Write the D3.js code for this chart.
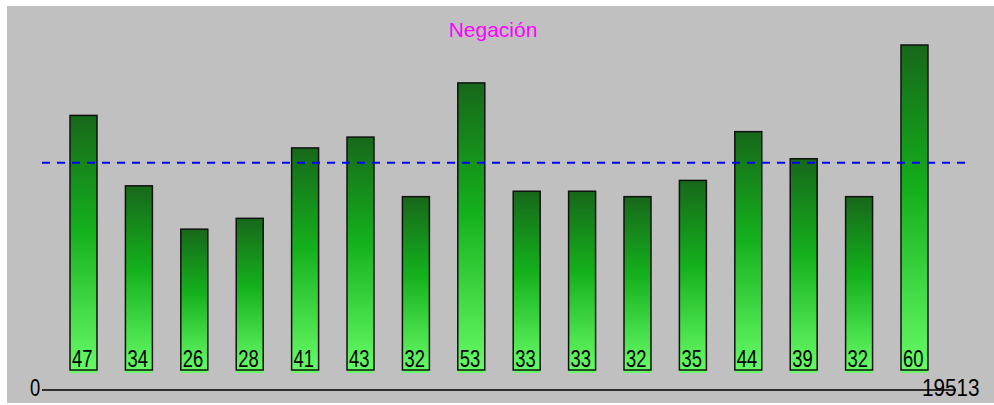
<!DOCTYPE html>
<html>
<head>
<meta charset="utf-8">
<script src="https://cdn.jsdelivr.net/npm/d3@7"></script>
<style>
  body { margin: 0; background: #fff; }
  text { font-family: "Liberation Sans", Arial, sans-serif; }
</style>
</head>
<body>
<div id="chart"></div>
<script>
// values
var title = "Negación";
var values = [47, 34, 26, 28, 41, 43, 32, 53, 33, 33, 32, 35, 44, 39, 32, 60];
var axisLabels = ["0", "19513"];

var W = 994, H = 405;
var mean = d3.mean(values);

var svg = d3.select("#chart")
  .append("svg")
    .attr("width", W)
    .attr("height", H);

// grey panel
svg.append("rect")
  .attr("x", 7).attr("y", 6)
  .attr("width", W - 7).attr("height", 397)
  .attr("fill", "#c0c0c0");

// gradient for the bars
var grad = svg.append("defs").append("linearGradient")
  .attr("id", "barGrad")
  .attr("x1", 0).attr("y1", 0).attr("x2", 0).attr("y2", 1);
grad.append("stop").attr("offset", "0%").attr("stop-color", "#17681a");
grad.append("stop").attr("offset", "45%").attr("stop-color", "#14b01c");
grad.append("stop").attr("offset", "100%").attr("stop-color", "#66fb66");

var x = d3.scaleBand()
  .domain(values.map(function(d, i) { return i; }))
  .range([41.6, 956.4])
  .padding(0.513);

var y = d3.scaleLinear()
  .domain([0, 60])
  .range([370, 45]);

// title
svg.append("text")
  .attr("x", 493)
  .attr("y", 37)
  .attr("text-anchor", "middle")
  .style("font-size", "21px")
  .style("fill", "#ff00ff")
  .text(title);

// light strip under each bar
svg.selectAll("mystrip")
  .data(values)
  .enter()
  .append("rect")
    .attr("x", function(d, i) { return x(i); })
    .attr("y", y(0))
    .attr("width", x.bandwidth())
    .attr("height", 3)
    .attr("fill", "#66fb66");

// bars
svg.selectAll("mybar")
  .data(values)
  .enter()
  .append("rect")
    .attr("x", function(d, i) { return x(i); })
    .attr("y", function(d) { return y(d); })
    .attr("width", x.bandwidth())
    .attr("height", function(d) { return y(0) - y(d); })
    .attr("fill", "url(#barGrad)")
    .attr("stroke", "#111")
    .attr("stroke-width", 1.5);

// mean line
svg.append("line")
  .attr("x1", 42).attr("x2", 966)
  .attr("y1", y(mean)).attr("y2", y(mean))
  .attr("stroke", "#0000ff")
  .attr("stroke-width", 2)
  .attr("stroke-dasharray", "8,7");

// narrow digits like the original bitmap font
function narrow(sel, px, py, sx) {
  sel.attr("transform", "translate(" + px + "," + py + ") scale(" + (sx || 0.8) + ",1)")
    .style("font-size", "23px")
    .style("fill", "#000");
}

// value labels inside the bars
svg.selectAll("mylabel")
  .data(values)
  .enter()
  .append("text")
    .each(function(d, i) { narrow(d3.select(this), x(i) + 2, y(0) - 3); })
    .text(function(d) { return d; });

// bottom axis
svg.append("line")
  .attr("x1", 42).attr("x2", 956)
  .attr("y1", 390).attr("y2", 390)
  .attr("stroke", "#000")
  .attr("stroke-width", 1.5);

svg.append("text")
  .call(narrow, 30, 396)
  .text(axisLabels[0]);

svg.append("text")
  .call(narrow, 922, 396, 0.9)
  .text(axisLabels[1]);
</script>
</body>
</html>
